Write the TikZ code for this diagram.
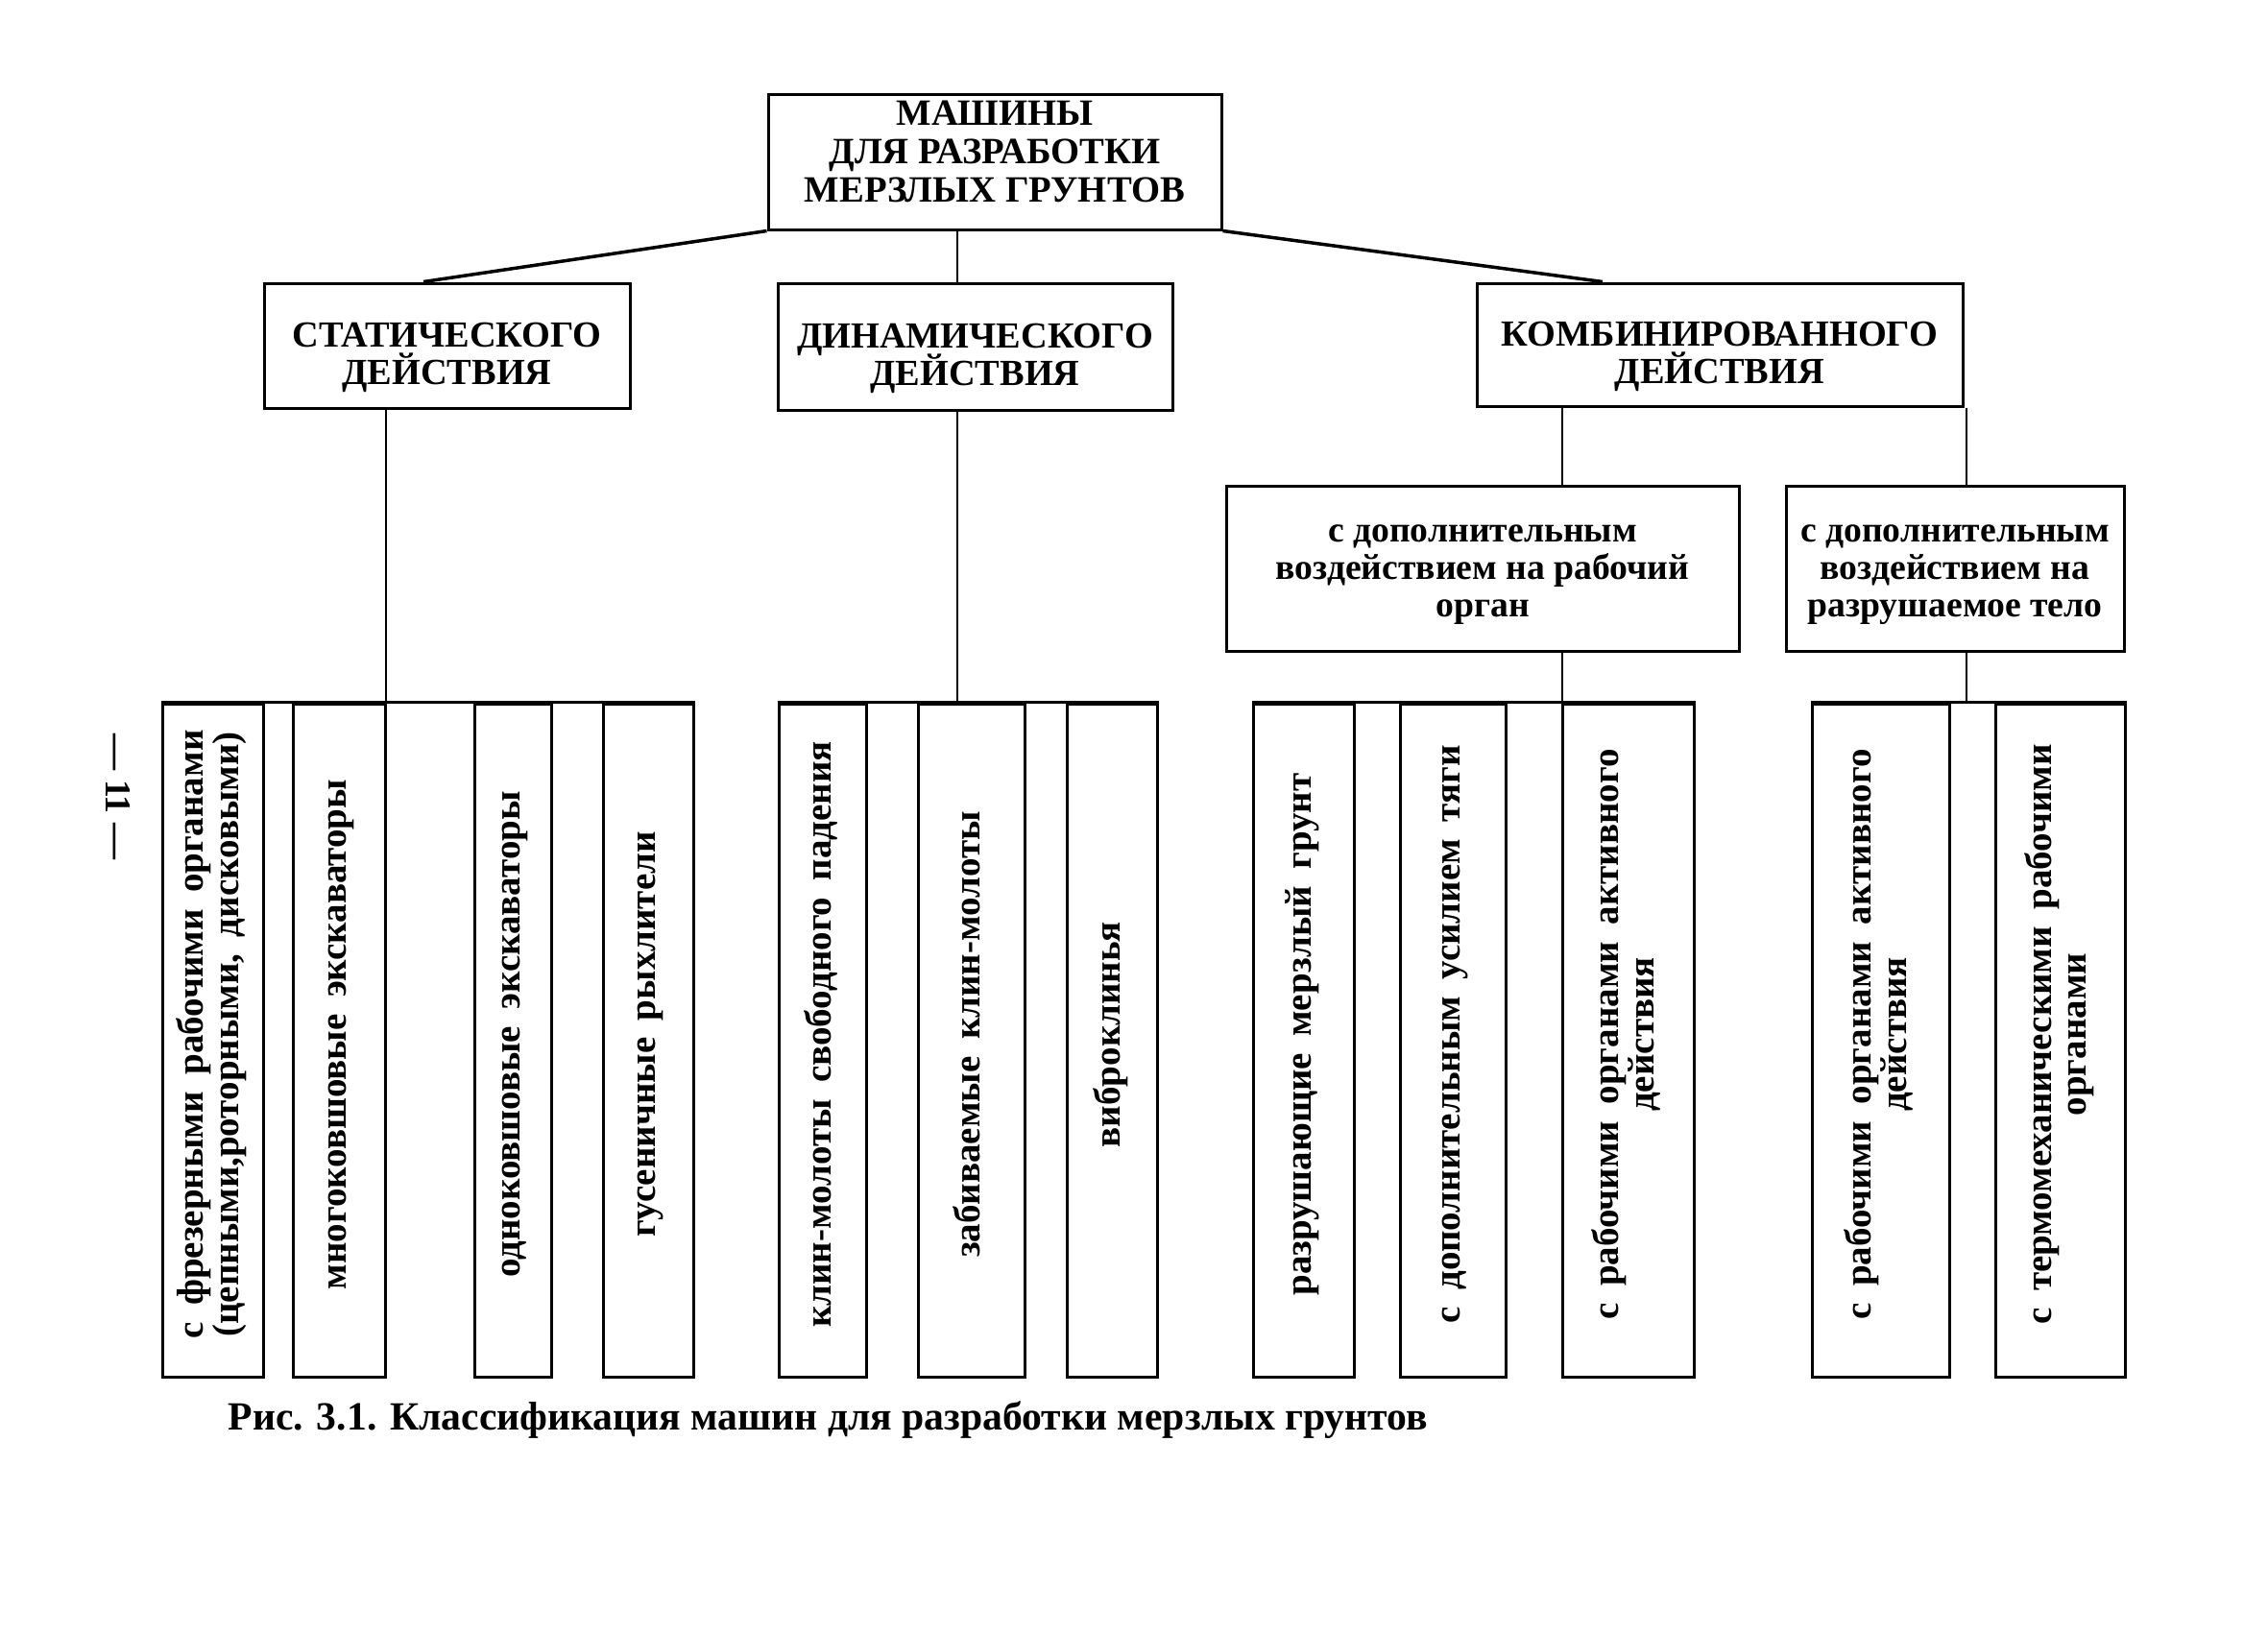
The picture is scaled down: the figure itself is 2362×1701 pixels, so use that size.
\documentclass[tikz,border=0pt]{standalone}
\usepackage{fontspec}
\setmainfont{Liberation Serif}
\newcommand\rotlbl[1]{\rotatebox{90}{\kern3.6pt\begin{tabular}{@{}c@{}}#1\end{tabular}}}
\newcommand\tightlns{\lineskiplimit-20pt\relax}
\newcommand\widesp{\spaceskip0.45em plus 0.1em\relax}
\tikzset{
  box/.style={draw, line width=0.9pt, inner sep=0pt},
  boxsize/.style 2 args={minimum width={#1*0.3pt}, minimum height={#2*0.3pt}},
  lvlone/.style={font=\fontsize{11.6}{12.1}\selectfont\bfseries\tightlns, align=center, inner sep=0pt},
  lvltwo/.style={font=\fontsize{11.5}{11.7}\selectfont\bfseries\tightlns, align=center, inner sep=0pt},
  lvlsub/.style={font=\fontsize{11.3}{11.7}\selectfont\bfseries\tightlns, align=center, inner sep=0pt},
  leaf/.style={font=\fontsize{11.7}{10.8}\selectfont\bfseries\widesp},
  conn/.style={line width=0.75pt},
  diag/.style={line width=1.05pt},
}
\begin{document}
\begin{tikzpicture}[x=0.3pt,y=-0.3pt]
\useasboundingbox (0,0) rectangle (2362,1701);

% level 1
\node[box, boxsize={472}{141}, label={[lvlone, yshift=3.2pt]center:МАШИНЫ\\ДЛЯ РАЗРАБОТКИ\\МЕРЗЛЫХ ГРУНТОВ}] (root) at (1036,168.5) {};
% level 2
\node[box, boxsize={381}{130}, label={[lvltwo, yshift=-3.6pt]center:СТАТИЧЕСКОГО\\ДЕЙСТВИЯ}] (stat) at (465.5,360) {};
\node[box, boxsize={411}{132}, label={[lvltwo, yshift=-3.6pt]center:ДИНАМИЧЕСКОГО\\ДЕЙСТВИЯ}] (dyn) at (1015.5,361) {};
\node[box, boxsize={506}{128}, label={[lvltwo, yshift=-3.6pt]center:КОМБИНИРОВАННОГО\\ДЕЙСТВИЯ}] (comb) at (1791,359) {};
% level 3
\node[box, boxsize={534}{172}, label={[lvlsub, yshift=-2pt]center:с дополнительным\\воздействием на рабочий\\орган}] (subA) at (1544,592) {};
\node[box, boxsize={352}{172}, label={[lvlsub, yshift=-2pt]center:с дополнительным\\воздействием на\\разрушаемое тело}] (subB) at (2036,592) {};

% leaves
\node[box, leaf, boxsize={105}{701}] (b1) at (221.5,1083.5) {\rotlbl{с фрезерными рабочими органами\\(цепными,роторными, дисковыми)}};
\node[box, leaf, boxsize={96}{701}] (b2) at (353,1083.5) {\rotlbl{многоковшовые экскаваторы}};
\node[box, leaf, boxsize={80}{701}] (b3) at (534,1083.5) {\rotlbl{одноковшовые экскаваторы}};
\node[box, leaf, boxsize={94}{701}] (b4) at (675,1083.5) {\rotlbl{гусеничные рыхлители}};
\node[box, leaf, boxsize={91}{701}] (b5) at (856.5,1083.5) {\rotlbl{клин-молоты свободного падения}};
\node[box, leaf, boxsize={111}{701}] (b6) at (1011.5,1083.5) {\rotlbl{забиваемые клин-молоты}};
\node[box, leaf, boxsize={94}{701}] (b7) at (1158,1083.5) {\rotlbl{виброклинья}};
\node[box, leaf, boxsize={105}{701}] (b8) at (1357.5,1083.5) {\rotlbl{разрушающие мерзлый грунт}};
\node[box, leaf, boxsize={110}{701}] (b9) at (1513,1083.5) {\rotlbl{с дополнительным усилием тяги}};
\node[box, leaf, boxsize={137}{701}] (b10) at (1695.5,1083.5) {\rotlbl{с рабочими органами активного\\действия}};
\node[box, leaf, boxsize={143}{701}] (b11) at (1958.5,1083.5) {\rotlbl{с рабочими органами активного\\действия}};
\node[box, leaf, boxsize={135}{701}] (b12) at (2145.5,1083.5) {\rotlbl{с термомеханическими рабочими\\органами}};

% junction x positions
\coordinate (xsd) at (441,0);
\coordinate (xcd) at (1669,0);
\coordinate (xs) at (402,0);
\coordinate (xd) at (997,0);
\coordinate (xca) at (1627,0);
\coordinate (xcb) at (2048,0);

% connectors level 1 -> 2
\draw[diag] (root.south west) -- (stat.north -| xsd);
\draw[conn] (root.south -| xd) -- (dyn.north -| xd);
\draw[diag] (root.south east) -- (comb.north -| xcd);
% level 2 -> 3
\draw[conn] (comb.south -| xca) -- (subA.north -| xca);
\draw[conn] (comb.south -| xcb) -- (subB.north -| xcb);
% to bars
\draw[conn] (stat.south -| xs) -- (b2.north -| xs);
\draw[conn] (dyn.south -| xd) -- (b6.north -| xd);
\draw[conn] (subA.south -| xca) -- (b10.north -| xca);
\draw[conn] (subB.south -| xcb) -- (b12.north -| xcb);
% bars
\draw[box] (b1.north west) -- (b4.north east);
\draw[box] (b5.north west) -- (b7.north east);
\draw[box] (b8.north west) -- (b10.north east);
\draw[box] (b11.north west) -- (b12.north east);

% caption and page number
\node[anchor=base west, font=\fontsize{12.5}{14}\selectfont\bfseries, inner sep=0pt] (cap) at (237,1489) {Рис. 3.1. Классификация машин для разработки мерзлых грунтов};
\node[rotate=-90, font=\fontsize{11.4}{12}\selectfont\bfseries, inner sep=0pt] (pg) at (123,830) {— 11 —};
\end{tikzpicture}
\end{document}
